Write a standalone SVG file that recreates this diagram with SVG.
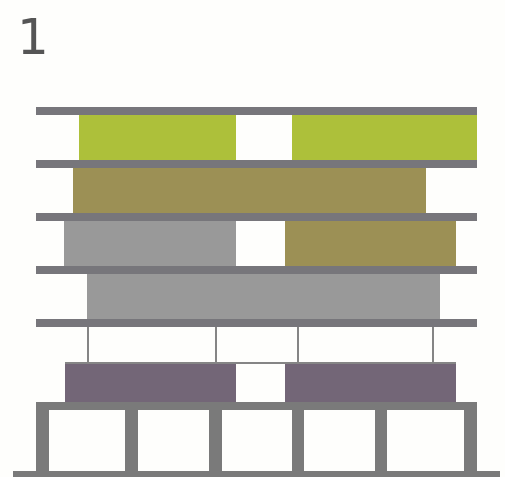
<svg xmlns="http://www.w3.org/2000/svg" width="505" height="477" viewBox="0 0 505 477">
<style>
.bar{fill:#77767b}
.green{fill:#adc03a}
.olive{fill:#9c9055}
.grey{fill:#999999}
.purple{fill:#736677}
.frame{fill:#7a7a7a}
.thin{stroke:#858585;stroke-width:2;fill:none}
.label{font-family:"DejaVu Sans",sans-serif;font-size:50px;fill:#555555}
</style>
<rect width="505" height="477" fill="#fefefc"/>
<text class="label" x="17" y="54">1</text>
<g id="level5">
<rect class="green" x="79" y="115" width="157" height="45"/>
<rect class="green" x="292" y="115" width="185" height="45"/>
</g>
<g id="level4">
<rect class="olive" x="73" y="168" width="353" height="45"/>
</g>
<g id="level3">
<rect class="grey" x="64" y="221" width="172" height="45"/>
<rect class="olive" x="285" y="221" width="171" height="45"/>
</g>
<g id="level2">
<rect class="grey" x="87" y="274" width="353" height="45"/>
</g>
<g id="level1">
<rect class="purple" x="65" y="364" width="171" height="38"/>
<rect class="purple" x="285" y="364" width="171" height="38"/>
</g>
<g id="slabs">
<rect class="bar" x="36" y="107" width="441" height="8"/>
<rect class="bar" x="36" y="160" width="441" height="8"/>
<rect class="bar" x="36" y="213" width="441" height="8"/>
<rect class="bar" x="36" y="266" width="441" height="8"/>
<rect class="bar" x="36" y="319" width="441" height="8"/>
</g>
<g id="connectors">
<line class="thin" x1="88" y1="327" x2="88" y2="363"/>
<line class="thin" x1="216" y1="327" x2="216" y2="363"/>
<line class="thin" x1="298" y1="327" x2="298" y2="363"/>
<line class="thin" x1="433" y1="327" x2="433" y2="363"/>
<line class="thin" x1="65" y1="363" x2="456" y2="363"/>
</g>
<g id="base">
<rect class="frame" x="36" y="402" width="441" height="8"/>
<rect class="frame" x="36" y="402" width="13" height="70"/>
<rect class="frame" x="125" y="402" width="13" height="70"/>
<rect class="frame" x="209" y="402" width="13" height="70"/>
<rect class="frame" x="292" y="402" width="12" height="70"/>
<rect class="frame" x="375" y="402" width="12" height="70"/>
<rect class="frame" x="464" y="402" width="13" height="70"/>
<rect class="frame" x="13" y="471" width="487" height="6"/>
</g>
</svg>
